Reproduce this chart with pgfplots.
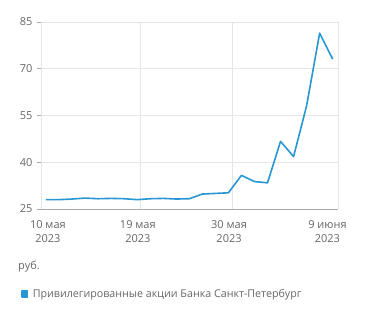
\documentclass[border=0pt]{standalone}
\usepackage{pgfplots}
\pgfplotsset{compat=1.18}
\usepackage{fontspec}
\setmainfont{Open Sans}
\definecolor{linecol}{HTML}{2896D2}
\definecolor{txtgray}{HTML}{666666}
\definecolor{gridgray}{HTML}{E6E6E6}
\definecolor{axgray}{HTML}{A8A8A8}
\begin{document}
\begin{tikzpicture}[x=1pt,y=1pt]
\useasboundingbox (0,0) rectangle (371,317);
\begin{axis}[
  at={(41pt,108pt)}, anchor=south west,
  scale only axis, width=297pt, height=187pt,
  xmin=-0.38, xmax=22.41, ymin=25, ymax=85,
  axis x line*=bottom, axis y line*=left,
  axis line style={draw=axgray, line width=0.8pt},
  ytick={25,40,55,70,85},
  ymajorgrids, grid style={draw=gridgray, line width=0.8pt},
  ytick style={draw=axgray, line width=0.8pt},
  tick align=outside, major tick length=4pt,
  xtick={0.15,7.05,14.05,21.6},
  xticklabels={{10 мая\\2023},{19 мая\\2023},{30 мая\\2023},{9 июня\\2023}},
  xtick style={draw=none},
  xticklabel style={align=center, font=\fontsize{11}{13.5}\selectfont, text=txtgray, yshift=-4pt},
  yticklabel style={font=\fontsize{11}{13}\selectfont, text=txtgray, xshift=-1pt},
  extra x ticks={-0.38,7.21,14.27,22.41},
  extra x tick labels={},
  extra x tick style={grid=major, tick style={draw=axgray, line width=0.8pt}},
  /pgf/number format/assume math mode=true,
  clip=false,
  legend style={at={(axis description cs:-0.0673,-0.4545)}, anchor=west, draw=none, fill=none, inner sep=0pt, font=\fontsize{10.7}{13}\selectfont, text=txtgray},
  legend cell align=left,
  legend image code/.code={\fill[linecol] (0pt,-2.75pt) rectangle (5.5pt,2.75pt); \path (8pt,0pt);},
]
\addplot[linecol, line width=1.6pt, line join=round] coordinates {
(0,28.0) (1,28.0) (2,28.2) (3,28.5) (4,28.3) (5,28.4) (6,28.3) (7,28.0)
(8,28.3) (9,28.4) (10,28.2) (11,28.3) (12,29.8) (13,30.0) (14,30.2)
(15,35.8) (16,33.8) (17,33.4) (18,46.7) (19,41.8) (20,58.1) (21,81.4) (22,73.1)
};
\addlegendentry{Привилегированные акции Банка Санкт-Петербург}
\end{axis}
\node[anchor=base west, inner sep=0pt, font=\fontsize{11}{13}\selectfont, text=txtgray] at (18,48) {руб.};
\end{tikzpicture}
\end{document}
